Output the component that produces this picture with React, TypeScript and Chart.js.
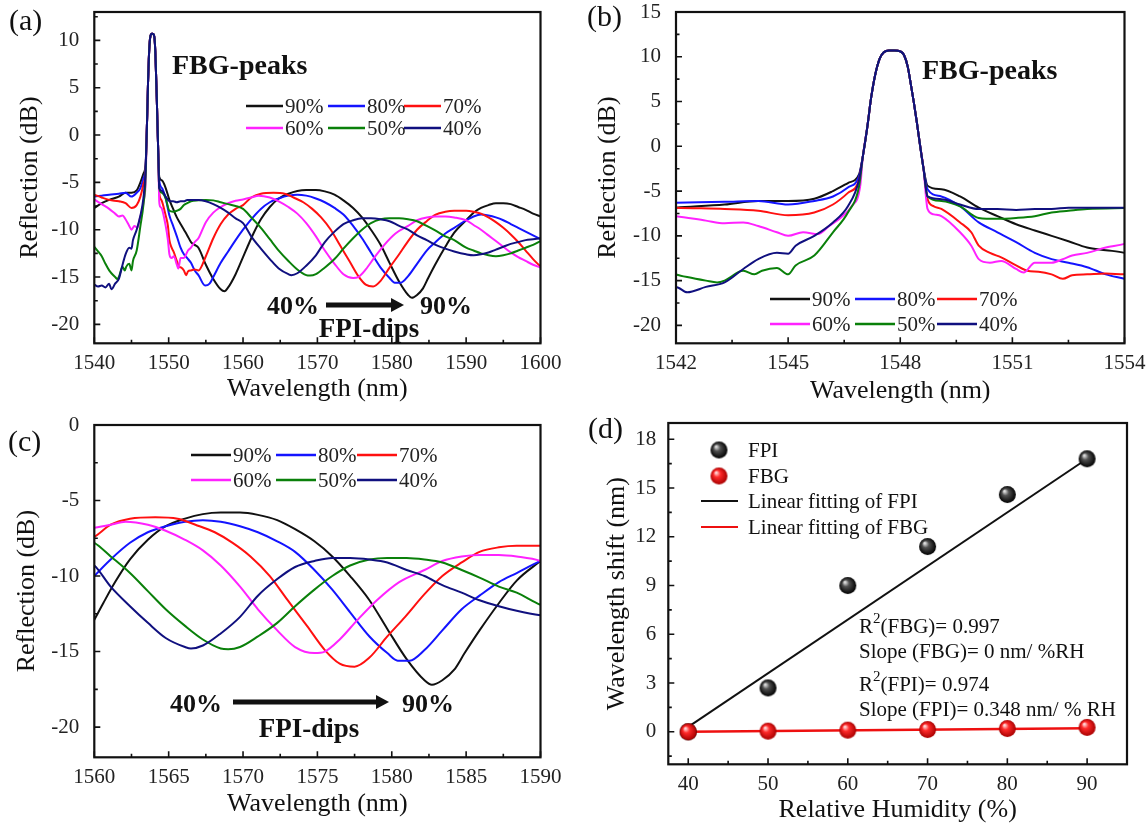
import React, { useEffect, useRef } from 'react';
import { Chart, registerables } from 'chart.js';

Chart.register(...registerables);

const FONT = '"Liberation Serif", "Times New Roman", serif';
Chart.defaults.font.family = FONT;

// ---------------- data ----------------
const humidityLabels = ['90%', '80%', '70%', '60%', '50%', '40%'];
const humidityColors = ['#111111', '#1414ff', '#ff1010', '#ff22ff', '#0a800a', '#10107f'];

// common FBG reflection peak (wavelength nm, dB)
const fbgPeak: [number, number][] = [
  [1547.0, -1.1], [1547.12, 2.2], [1547.22, 5.4], [1547.33, 8.0], [1547.45, 9.8], [1547.56, 10.5],
  [1547.7, 10.7], [1547.85, 10.7], [1548.0, 10.6], [1548.1, 10.2], [1548.2, 8.9], [1548.28, 7.0],
  [1548.36, 5.0], [1548.44, 2.8], [1548.52, 0.4], [1548.62, -2.4],
];

const spec90: [number, number][] = [
  [1540, -7.7], [1541, -7.2], [1542, -6.85], [1543.3, -6.5], [1544.2, -6.1], [1545, -6.1], [1545.7, -5.85], [1546.2, -5.0], [1546.6, -4.1], [1546.9, -3.1],
  [1548.73, -4.4], [1549.1, -4.8], [1549.6, -5.6], [1550.1, -6.85], [1550.6, -7.8], [1551.1, -8.7], [1551.6, -9.4], [1552.05, -10.0], [1552.5, -10.6], [1553, -11.3],
  [1553.5, -11.6], [1554, -11.9], [1555, -13.7], [1556, -15.2], [1557, -16.3], [1557.5, -16.5], [1558, -16.1], [1559, -14.7], [1560, -12.9], [1560.6, -11.8],
  [1561.4, -10.4], [1562.4, -8.9], [1563.6, -7.6], [1564.8, -6.7], [1566.1, -6.2], [1567.3, -5.9], [1568.5, -5.8], [1569.8, -5.8], [1571, -5.95], [1572.3, -6.3],
  [1573.5, -6.9], [1574.8, -7.7], [1576, -8.7], [1577.2, -10.0], [1578.5, -11.6], [1579.7, -13.5], [1581, -15.5], [1582.2, -16.9], [1582.7, -17.2], [1583.4, -16.9],
  [1584.2, -16.2], [1584.9, -15.1], [1585.9, -13.6], [1587.2, -11.8], [1588.4, -10.3], [1590, -9.0], [1591, -8.2], [1592, -7.7], [1593, -7.4], [1594, -7.2],
  [1595, -7.2], [1596, -7.3], [1597, -7.6], [1598, -7.9], [1599, -8.3], [1600, -8.6],
];

const spec80: [number, number][] = [
  [1540, -6.5], [1541, -6.4], [1542, -6.3], [1543.3, -6.2], [1544.2, -6.1], [1545, -6.5], [1545.7, -6.1], [1546.2, -5.6], [1546.6, -4.6], [1546.9, -3.3],
  [1548.73, -4.8], [1549.1, -5.6], [1549.6, -6.7], [1550.1, -8.5], [1550.6, -9.6], [1551.1, -10.7], [1551.6, -11.9], [1552.05, -12.6], [1552.5, -13.0], [1553, -13.5],
  [1553.5, -14.3], [1554, -14.8], [1554.9, -15.9], [1555.5, -15.7], [1556, -15.0], [1557, -13.5], [1558, -12.3], [1559, -11.1], [1560, -10.0],
  [1561.1, -8.9], [1562.4, -7.8], [1563.6, -7.1], [1564.8, -6.7], [1566.1, -6.4], [1567.3, -6.3], [1568.5, -6.4], [1569.8, -6.7], [1571, -7.1], [1572.3, -7.7],
  [1573.5, -8.4], [1574.8, -9.6], [1576, -10.9], [1577.2, -12.4], [1578.5, -14.0], [1579.7, -15.1], [1580.4, -15.6], [1581.2, -15.6], [1582.2, -14.9], [1583.4, -13.6],
  [1584.7, -12.2], [1585.9, -11.3], [1587.2, -10.4], [1588.4, -9.8], [1590, -9.0], [1591, -8.6], [1592, -8.4], [1593, -8.5], [1594, -8.7], [1595, -9.0],
  [1596, -9.4], [1597, -9.8], [1598, -10.2], [1599, -10.6], [1600, -11.0],
];

const spec70: [number, number][] = [
  [1540, -6.3], [1541, -6.6], [1542, -6.85], [1543.3, -7.0], [1544.2, -7.2], [1545, -7.7], [1545.7, -7.4], [1546.2, -6.5], [1546.6, -5.2], [1546.9, -3.7],
  [1548.73, -5.9], [1548.9, -6.7], [1549.1, -7.0], [1549.6, -8.5], [1549.9, -9.6], [1550.1, -11.1], [1550.4, -11.9], [1550.7, -12.4], [1551.1, -13.3], [1551.4, -13.9],
  [1551.7, -14.0], [1552.05, -14.3], [1552.35, -14.8], [1552.6, -14.4], [1553, -14.3], [1553.5, -14.2], [1554, -14.3], [1555, -12.8], [1556, -10.9], [1557, -9.4],
  [1558, -8.4], [1559, -7.8], [1560, -7.4], [1561.1, -6.6], [1562.4, -6.2], [1564.1, -6.1], [1565.6, -6.2], [1566.8, -6.6], [1568.1, -7.1], [1569.3, -7.8],
  [1570.5, -8.7], [1571.8, -10.0], [1573, -11.6], [1574.3, -13.3], [1575.5, -14.9], [1576.5, -15.8], [1577.5, -16.0], [1578.5, -15.4], [1579.7, -14.0], [1580.9, -12.7],
  [1582.2, -11.2], [1583.4, -10.0], [1584.7, -9.1], [1585.9, -8.4], [1587.2, -8.1], [1588.4, -8.0], [1590, -8.0], [1591, -8.1], [1592, -8.3], [1593, -8.7],
  [1594, -9.2], [1595, -9.8], [1596, -10.5], [1597, -11.3], [1598, -12.2], [1599, -13.1], [1600, -13.9],
];

const spec60: [number, number][] = [
  [1540, -6.8], [1541, -7.3], [1542, -7.8], [1542.8, -8.3], [1543.3, -8.6], [1543.8, -8.5], [1544.2, -8.9], [1544.7, -9.6], [1545, -10.0], [1545.4, -9.6],
  [1545.8, -9.8], [1546.1, -8.9], [1546.4, -8.0], [1546.7, -6.7], [1546.93, -4.4],
  [1548.73, -7.0], [1548.9, -7.6], [1549.1, -7.8], [1549.6, -9.6], [1549.9, -11.1], [1550.1, -12.6], [1550.4, -13.0], [1550.7, -12.8], [1551.1, -13.7], [1551.3, -14.1],
  [1551.6, -13.0], [1552.05, -13.0], [1552.35, -12.6], [1552.6, -12.2], [1553, -11.9], [1553.5, -11.3], [1554, -10.9], [1555, -9.2], [1556, -8.2], [1557, -7.6],
  [1558, -7.2], [1559, -6.95], [1560, -6.8], [1561.1, -6.6], [1562.1, -6.4], [1563.6, -6.6], [1564.8, -7.0], [1566.1, -7.6], [1567.3, -8.3], [1568.5, -9.3],
  [1569.8, -10.7], [1571, -12.2], [1572.3, -13.6], [1573.5, -14.7], [1574.8, -15.1], [1575.5, -15.0], [1576.5, -14.2], [1577.7, -12.9], [1579, -11.6], [1580.5, -10.4],
  [1582.2, -9.6], [1583.4, -9.0], [1584.7, -8.7], [1585.9, -8.6], [1587.2, -8.6], [1588.4, -8.7], [1590, -9.0], [1591, -9.5], [1592, -10.0], [1593, -10.6],
  [1594, -11.2], [1595, -11.8], [1596, -12.4], [1597, -12.9], [1598, -13.3], [1599, -13.7], [1600, -14.0],
];

const spec50: [number, number][] = [
  [1540, -11.8], [1540.5, -12.3], [1541, -12.8], [1541.5, -13.6], [1542, -14.3], [1542.3, -14.6], [1542.8, -15.0], [1543.1, -15.2], [1543.3, -15.0], [1543.8, -13.9],
  [1544.1, -14.3], [1544.3, -13.9], [1544.7, -13.6], [1545, -14.3], [1545.2, -13.3], [1545.7, -12.2], [1546.2, -9.6], [1546.6, -7.4], [1546.9, -4.4],
  [1548.73, -5.6], [1549.1, -6.1], [1549.6, -6.7], [1550.1, -8.0], [1550.6, -8.1], [1551.1, -8.0], [1551.6, -7.8], [1552.05, -7.4], [1552.5, -7.2], [1553, -7.0],
  [1554, -6.9], [1555, -6.85], [1556, -6.9], [1557, -7.1], [1558, -7.3], [1559, -7.5], [1560, -7.8], [1561.1, -8.7], [1562.4, -9.8], [1563.6, -11.0],
  [1564.8, -12.2], [1566.1, -13.3], [1567.3, -14.2], [1568.5, -14.8], [1569, -14.85], [1569.8, -14.7], [1571, -14.0], [1572.3, -13.1], [1573.5, -12.0], [1574.8, -10.9],
  [1576, -10.0], [1577.2, -9.3], [1578.5, -8.9], [1579.7, -8.8], [1581, -8.8], [1582.2, -8.9], [1583.4, -9.1], [1584.7, -9.6], [1585.9, -10.1], [1587.2, -10.7],
  [1588.4, -11.1], [1590, -11.9], [1591, -12.2], [1592, -12.5], [1593, -12.7], [1594, -12.8], [1595, -12.7], [1596, -12.5], [1597, -12.2], [1598, -11.9],
  [1599, -11.6], [1600, -11.2],
];

const spec40: [number, number][] = [
  [1540, -15.8], [1540.5, -16.0], [1541, -15.9], [1541.5, -16.1], [1542, -15.7], [1542.3, -16.3], [1542.8, -15.7], [1543.3, -15.2], [1543.8, -13.7], [1544.2, -12.6],
  [1544.7, -11.9], [1545, -12.0], [1545.2, -11.1], [1545.7, -10.0], [1546.2, -8.5], [1546.6, -6.7], [1546.9, -3.7],
  [1548.73, -5.6], [1549.1, -5.9], [1549.6, -6.5], [1550.1, -7.0], [1550.6, -7.0], [1551.1, -7.1], [1551.6, -7.0], [1552.05, -7.0], [1552.5, -6.85], [1553, -6.85],
  [1554, -6.85], [1555, -7.0], [1556, -7.3], [1557, -7.7], [1558, -8.2], [1559, -8.8], [1560, -9.3], [1561.1, -10.7], [1562.4, -12.0], [1563.6, -13.1],
  [1564.8, -14.1], [1566.1, -14.7], [1566.5, -14.8], [1567.3, -14.6], [1568.5, -13.8], [1569.8, -12.7], [1571, -11.3], [1572.3, -10.2], [1573.5, -9.4], [1574.8, -9.0],
  [1576, -8.8], [1577.2, -8.8], [1578.5, -8.9], [1579.7, -9.1], [1581, -9.6], [1582.2, -10.0], [1583.4, -10.6], [1584.7, -11.1], [1585.9, -11.6], [1587.2, -12.0],
  [1588.4, -12.3], [1590, -12.6], [1591, -12.7], [1592, -12.6], [1593, -12.4], [1594, -12.1], [1595, -11.8], [1596, -11.5], [1597, -11.3], [1598, -11.1],
  [1599, -11.0], [1600, -10.9],
];

const spectra = [spec90, spec80, spec70, spec60, spec50, spec40];

// panel (d)
const rhLevels = [40, 50, 60, 70, 80, 90];
const fpiShift = [0, 2.7, 9.0, 11.4, 14.6, 16.8];
const fbgShift = [0, 0.04, 0.1, 0.14, 0.2, 0.27];
const fitRh = [40, 90];
const fpiFit = [0.3, 16.8];
const fbgFit = [0, 0.22];

// tick labels
const aXTicks = [1540, 1550, 1560, 1570, 1580, 1590, 1600];
const aYTicks = [-20, -15, -10, -5, 0, 5, 10];
const bXTicks = [1542, 1545, 1548, 1551, 1554];
const bYTicks = [-20, -15, -10, -5, 0, 5, 10, 15];
const cXTicks = [1560, 1565, 1570, 1575, 1580, 1585, 1590];
const cYTicks = [-20, -15, -10, -5, 0];
const dXTicks = [40, 50, 60, 70, 80, 90];
const dYTicks = [0, 3, 6, 9, 12, 15, 18];

// ---------------- helpers ----------------
type TextItem = { text: string; x: number; y: number; size: number; bold?: boolean; align?: CanvasTextAlign; sup?: string; after?: string };
type Decor = {
  label: { text: string; x: number; y: number };
  legend?: { rows: number[]; cols: number[]; len: number };
  texts?: TextItem[];
  arrows?: { x1: number; x2: number; y: number }[];
  dLegend?: { ballX: number; rows: number[]; lineX1: number; lineX2: number; textX: number; balls: HTMLCanvasElement[] };
};

function makeBall(light: string, mid: string, dark: string, r: number): HTMLCanvasElement {
  const c = document.createElement('canvas');
  const s = Math.ceil(r * 2 + 2);
  c.width = s;
  c.height = s;
  const g = c.getContext('2d')!;
  const cx = s / 2, cy = s / 2;
  const grad = g.createRadialGradient(cx - r * 0.35, cy - r * 0.4, r * 0.08, cx, cy, r);
  grad.addColorStop(0, light);
  grad.addColorStop(0.35, mid);
  grad.addColorStop(1, dark);
  g.fillStyle = grad;
  g.beginPath();
  g.arc(cx, cy, r, 0, Math.PI * 2);
  g.fill();
  return c;
}

function drawText(ctx: CanvasRenderingContext2D, t: TextItem) {
  ctx.fillStyle = '#111';
  ctx.textBaseline = 'middle';
  ctx.font = `${t.bold ? 'bold ' : ''}${t.size}px ${FONT}`;
  if (!t.sup) {
    ctx.textAlign = t.align || 'left';
    ctx.fillText(t.text, t.x, t.y);
    return;
  }
  ctx.textAlign = 'left';
  let x = t.x;
  ctx.fillText(t.text, x, t.y);
  x += ctx.measureText(t.text).width;
  ctx.font = `${Math.round(t.size * 0.72)}px ${FONT}`;
  ctx.fillText(t.sup, x, t.y - t.size * 0.36);
  x += ctx.measureText(t.sup).width;
  ctx.font = `${t.size}px ${FONT}`;
  ctx.fillText(t.after || '', x, t.y);
}

function decorPlugin(dec: Decor) {
  return {
    id: 'decor',
    afterDraw(chart: any) {
      const ctx: CanvasRenderingContext2D = chart.ctx;
      const { left, right, top, bottom } = chart.chartArea;
      const xs = chart.scales.x;
      const ys = chart.scales.y;
      ctx.save();
      // inward ticks (bottom + left)
      ctx.strokeStyle = '#111';
      ctx.lineWidth = 1.6;
      const tickSet = (scale: any) => {
        const majors: number[] = scale.ticks.map((t: any) => t.value);
        const step = majors[1] - majors[0];
        const minors: number[] = [];
        for (let i = 0; i < majors.length - 1; i++) minors.push((majors[i] + majors[i + 1]) / 2);
        if (majors[0] - step / 2 > scale.min) minors.push(majors[0] - step / 2);
        if (majors[majors.length - 1] + step / 2 < scale.max) minors.push(majors[majors.length - 1] + step / 2);
        return { majors, minors };
      };
      const xt = tickSet(xs);
      const yt = tickSet(ys);
      ctx.beginPath();
      xt.majors.forEach((v) => { const p = xs.getPixelForValue(v); ctx.moveTo(p, bottom); ctx.lineTo(p, bottom - 6); });
      xt.minors.forEach((v) => { const p = xs.getPixelForValue(v); ctx.moveTo(p, bottom); ctx.lineTo(p, bottom - 3.5); });
      yt.majors.forEach((v) => { const p = ys.getPixelForValue(v); ctx.moveTo(left, p); ctx.lineTo(left + 6, p); });
      yt.minors.forEach((v) => { const p = ys.getPixelForValue(v); ctx.moveTo(left, p); ctx.lineTo(left + 3.5, p); });
      ctx.stroke();
      // frame
      ctx.lineWidth = 2.2;
      ctx.strokeRect(left, top, right - left, bottom - top);

      // legend (spectra panels)
      if (dec.legend) {
        const { rows, cols, len } = dec.legend;
        ctx.font = `21px ${FONT}`;
        ctx.textBaseline = 'middle';
        ctx.textAlign = 'left';
        humidityLabels.forEach((lab, i) => {
          const r = Math.floor(i / 3), c = i % 3;
          const y = rows[r], x = cols[c];
          ctx.strokeStyle = humidityColors[i];
          ctx.lineWidth = 2.5;
          ctx.beginPath();
          ctx.moveTo(x, y);
          ctx.lineTo(x + len, y);
          ctx.stroke();
          ctx.fillStyle = '#222';
          ctx.fillText(lab, x + len + 2, y + 1);
        });
      }
      // legend (panel d)
      if (dec.dLegend) {
        const L = dec.dLegend;
        const names = ['FPI', 'FBG', 'Linear fitting of FPI', 'Linear fitting of FBG'];
        ctx.font = `21px ${FONT}`;
        ctx.textBaseline = 'middle';
        ctx.textAlign = 'left';
        L.balls.forEach((b, i) => ctx.drawImage(b, L.ballX - b.width / 2, L.rows[i] - b.height / 2));
        ['#111', '#ee1010'].forEach((col, i) => {
          ctx.strokeStyle = col;
          ctx.lineWidth = 2.2;
          ctx.beginPath();
          ctx.moveTo(L.lineX1, L.rows[i + 2]);
          ctx.lineTo(L.lineX2, L.rows[i + 2]);
          ctx.stroke();
        });
        ctx.fillStyle = '#111';
        names.forEach((n, i) => ctx.fillText(n, L.textX, L.rows[i] + 1));
      }
      // arrows
      (dec.arrows || []).forEach((a) => {
        ctx.strokeStyle = '#111';
        ctx.fillStyle = '#111';
        ctx.lineWidth = 5;
        ctx.beginPath();
        ctx.moveTo(a.x1, a.y);
        ctx.lineTo(a.x2 - 10, a.y);
        ctx.stroke();
        ctx.beginPath();
        ctx.moveTo(a.x2, a.y);
        ctx.lineTo(a.x2 - 13, a.y - 7);
        ctx.lineTo(a.x2 - 13, a.y + 7);
        ctx.closePath();
        ctx.fill();
      });
      // texts
      (dec.texts || []).forEach((t) => drawText(ctx, t));
      // panel label
      drawText(ctx, { text: dec.label.text, x: dec.label.x, y: dec.label.y, size: 30 });
      ctx.restore();
    },
  };
}

type Geom = { padTop: number; padRight: number; yW: number; xH: number; yTitlePad: number; xTitlePad: number; yTickPad: number; xTickPad: number };

function scalesFor(
  xr: [number, number], yr: [number, number], xTicks: number[], yTicks: number[],
  xTitle: string, yTitle: string, g: Geom, tickSize: number,
) {
  return {
    x: {
      type: 'linear' as const,
      min: xr[0],
      max: xr[1],
      afterBuildTicks: (a: any) => { a.ticks = xTicks.map((v) => ({ value: v })); },
      afterFit: (a: any) => {
        a.height = g.xH;
        a.paddingLeft = 0; a.paddingRight = 0; a.paddingTop = 0; a.paddingBottom = 0;
      },
      grid: { display: false, drawTicks: false },
      border: { display: false },
      ticks: { color: '#222', font: { size: tickSize }, padding: g.xTickPad, maxRotation: 0, autoSkip: false, callback: (v: any) => String(v) },
      title: { display: true, text: xTitle, color: '#111', font: { size: 26 }, padding: { top: 0, bottom: g.xTitlePad } },
    },
    y: {
      type: 'linear' as const,
      min: yr[0],
      max: yr[1],
      afterBuildTicks: (a: any) => { a.ticks = yTicks.map((v) => ({ value: v })); },
      afterFit: (a: any) => {
        a.width = g.yW;
        a.paddingLeft = 0; a.paddingRight = 0; a.paddingTop = 0; a.paddingBottom = 0;
      },
      grid: { display: false, drawTicks: false },
      border: { display: false },
      ticks: { color: '#222', font: { size: tickSize }, padding: g.yTickPad, autoSkip: false, callback: (v: any) => String(v) },
      title: { display: true, text: yTitle, color: '#111', font: { size: 26 }, padding: { top: g.yTitlePad, bottom: 0 } },
    },
  };
}

function spectrumConfig(xr: [number, number], yr: [number, number], xTicks: number[], yTicks: number[], g: Geom, dec: Decor): any {
  const datasets = spectra.map((s, i) => ({
    label: humidityLabels[i],
    data: [...s, ...fbgPeak].sort((a, b) => a[0] - b[0]).map(([x, y]) => ({ x, y })),
    borderColor: humidityColors[i],
    backgroundColor: humidityColors[i],
    borderWidth: 2,
    pointRadius: 0,
    cubicInterpolationMode: 'monotone',
    capBezierPoints: false,
    order: 6 - i,
  }));
  return {
    type: 'line',
    data: { datasets },
    options: {
      responsive: false,
      animation: false,
      events: [],
      layout: { padding: { top: g.padTop, right: g.padRight, left: 0, bottom: 0 } },
      plugins: { legend: { display: false }, tooltip: { enabled: false } },
      scales: scalesFor(xr, yr, xTicks, yTicks, 'Wavelength (nm)', 'Reflection (dB)', g, 21),
    },
    plugins: [decorPlugin(dec)],
  };
}

export default function App() {
  const aRef = useRef<HTMLCanvasElement>(null);
  const bRef = useRef<HTMLCanvasElement>(null);
  const cRef = useRef<HTMLCanvasElement>(null);
  const dRef = useRef<HTMLCanvasElement>(null);

  useEffect(() => {
    const blackBall = makeBall('#e0e0e0', '#505050', '#000000', 8.5);
    const redBall = makeBall('#ffd8d8', '#ff2a2a', '#a80000', 8.5);

    const cfgA = spectrumConfig([1540, 1600], [-22, 13], aXTicks, aYTicks,
      { padTop: 12, padRight: 33.5, yW: 94.3, xH: 66.7, yTitlePad: 15, xTitlePad: 5, yTickPad: 15, xTickPad: 8 },
      {
        label: { text: '(a)', x: 9, y: 22 },
        legend: { rows: [106, 128], cols: [246, 328, 404], len: 37 },
        texts: [
          { text: 'FBG-peaks', x: 172, y: 67, size: 28, bold: true },
          { text: '40%', x: 267, y: 307, size: 26, bold: true },
          { text: '90%', x: 420, y: 307, size: 26, bold: true },
          { text: 'FPI-dips', x: 369, y: 330, size: 27, bold: true, align: 'center' },
        ],
        arrows: [{ x1: 326, x2: 404, y: 305 }],
      });

    const cfgB = spectrumConfig([1542, 1554], [-22, 15], bXTicks, bYTicks,
      { padTop: 12, padRight: 23.5, yW: 102, xH: 66.7, yTitlePad: 19, xTitlePad: 3, yTickPad: 15, xTickPad: 8 },
      {
        label: { text: '(b)', x: 13, y: 18 },
        legend: { rows: [299, 324], cols: [196, 281, 363], len: 40 },
        texts: [{ text: 'FBG-peaks', x: 348, y: 72, size: 28, bold: true }],
      });

    const cfgC = spectrumConfig([1560, 1590], [-22, 0], cXTicks, cYTicks,
      { padTop: 15, padRight: 33.5, yW: 94.3, xH: 68.7, yTitlePad: 12, xTitlePad: 6, yTickPad: 15, xTickPad: 8 },
      {
        label: { text: '(c)', x: 8, y: 33 },
        legend: { rows: [45, 70], cols: [191, 276, 357], len: 40 },
        texts: [
          { text: '40%', x: 170, y: 295, size: 26, bold: true },
          { text: '90%', x: 402, y: 295, size: 26, bold: true },
          { text: 'FPI-dips', x: 309, y: 320, size: 27, bold: true, align: 'center' },
        ],
        arrows: [{ x1: 233, x2: 389, y: 292 }],
      });

    const gD: Geom = { padTop: 13, padRight: 21, yW: 94.3, xH: 61.7, yTitlePad: 28, xTitlePad: 0, yTickPad: 12, xTickPad: 8 };
    const cfgD: any = {
      type: 'line',
      data: {
        datasets: [
          {
            label: 'FPI',
            data: rhLevels.map((x, i) => ({ x, y: fpiShift[i] })),
            showLine: false,
            pointStyle: blackBall,
            pointRadius: 8,
            order: 1,
          },
          {
            label: 'FBG',
            data: rhLevels.map((x, i) => ({ x, y: fbgShift[i] })),
            showLine: false,
            pointStyle: redBall,
            pointRadius: 8,
            order: 0,
          },
          {
            label: 'Linear fitting of FPI',
            data: fitRh.map((x, i) => ({ x, y: fpiFit[i] })),
            borderColor: '#111',
            borderWidth: 2,
            pointRadius: 0,
            order: 3,
          },
          {
            label: 'Linear fitting of FBG',
            data: fitRh.map((x, i) => ({ x, y: fbgFit[i] })),
            borderColor: '#ee1010',
            borderWidth: 2.5,
            pointRadius: 0,
            order: 2,
          },
        ],
      },
      options: {
        responsive: false,
        animation: false,
        events: [],
        layout: { padding: { top: gD.padTop, right: gD.padRight, left: 0, bottom: 0 } },
        plugins: { legend: { display: false }, tooltip: { enabled: false } },
        scales: scalesFor([37.5, 95], [-2, 19], dXTicks, dYTicks, 'Relative Humidity (%)', 'Wavelength shift (nm)', gD, 21),
      },
      plugins: [decorPlugin({
        label: { text: '(d)', x: 14, y: 20 },
        dLegend: { ballX: 145, rows: [40, 66, 91, 117], lineX1: 127, lineX2: 164, textX: 174, balls: [blackBall, redBall] },
        texts: [
          { text: 'R', sup: '2', after: '(FBG)= 0.997', x: 285, y: 217, size: 21 },
          { text: 'Slope (FBG)= 0 nm/ %RH', x: 285, y: 242, size: 21 },
          { text: 'R', sup: '2', after: '(FPI)= 0.974', x: 285, y: 275, size: 21 },
          { text: 'Slope (FPI)= 0.348 nm/ % RH', x: 285, y: 300, size: 21 },
        ],
      })],
    };

    const charts = [
      new Chart(aRef.current!, cfgA),
      new Chart(bRef.current!, cfgB),
      new Chart(cRef.current!, cfgC),
      new Chart(dRef.current!, cfgD),
    ];
    return () => charts.forEach((c) => c.destroy());
  }, []);

  const abs = (left: number, top: number): React.CSSProperties => ({ position: 'absolute', left, top });
  return (
    <div style={{ position: 'absolute', left: 0, top: 0, width: 1148, height: 826, background: '#fff', overflow: 'hidden' }}>
      <canvas ref={aRef} width={574} height={410} style={abs(0, 0)} />
      <canvas ref={bRef} width={574} height={410} style={abs(574, 0)} />
      <canvas ref={cRef} width={574} height={416} style={abs(0, 410)} />
      <canvas ref={dRef} width={574} height={416} style={abs(574, 410)} />
    </div>
  );
}
